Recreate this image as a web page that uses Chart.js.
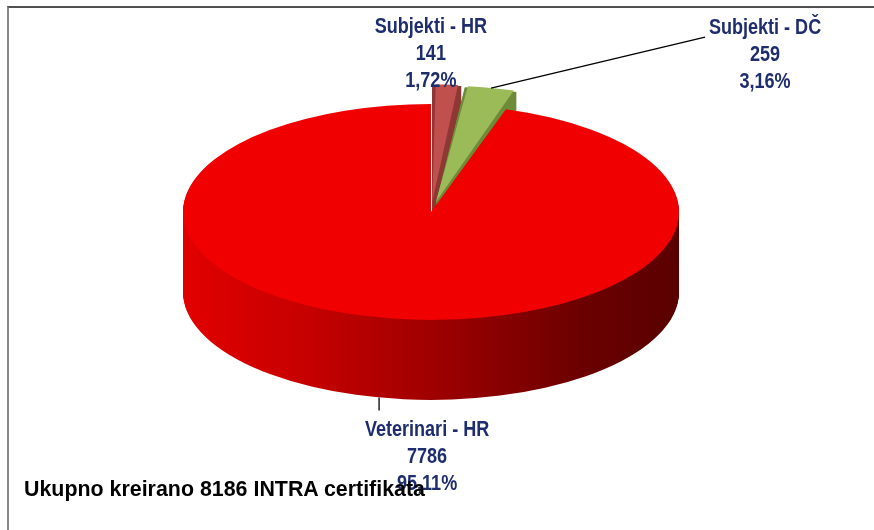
<!DOCTYPE html>
<html>
<head>
<meta charset="utf-8">
<script src="https://cdn.jsdelivr.net/npm/chart.js"></script>
<style>
  html, body { margin: 0; padding: 0; background: #fff; }
  #page { position: relative; width: 874px; height: 530px; overflow: hidden; background: #fff; }
  #wrap { position: absolute; left: 0; top: -44px; width: 874px; height: 592px; }
  #frame { position: absolute; left: 7px; top: 6px; right: 0; bottom: -10px;
           border-top: 2px solid #505050; border-left: 2px solid #8a8a8a; pointer-events: none; }
  #total { position: absolute; left: 24px; top: 477px; line-height: 1;
           font: bold 21.4px "Liberation Sans", Arial, sans-serif; color: #000; white-space: nowrap; }
</style>
</head>
<body>
<div id="page">
  <div id="wrap"><canvas id="pie"></canvas></div>
  <div id="frame"></div>
  <div id="total"></div>
</div>
<script>
// data
const categories = ["Subjekti - HR", "Subjekti - DČ", "Veterinari - HR"];
const counts = [141, 259, 7786];

// styles
const sliceColors = ["#C0504D", "#9BBB59", "#F00000"];
const sideColors = ["#8E3836", "#6E8B3A", null]; // null -> red gradient
const explode = [96, 96, 0];                      // chart.js offset
const VIEW = { tilt: 0.435, depth: 80 };
const labelColor = "#1e2d6e";
const labelFont = 'bold 22px "Liberation Sans", Arial, sans-serif';
const labelNarrow = 0.82; // squeeze to look like a narrow face
// label place relative to the slice tip (middle line baseline), optional leader end relative to label
const LABEL_POS = [
  { dx: -16, dy: -25 },
  { dx: 274, dy: -27, lead: [-60, -24] },
  { dx: 34, dy: 64, lead: [-48, -52] }
];

const total = counts.reduce((a, b) => a + b, 0);
document.getElementById("total").textContent = `Ukupno kreirano ${total} INTRA certifikata`;

const pct = (v) => (v / total * 100).toFixed(2).replace(".", ",") + "%";

function geom(chart) {
  const el0 = chart.getDatasetMeta(0).data[0];
  return {
    cx: el0.x,
    oy: el0.y,
    cy: el0.y - VIEW.depth / 2,
    R: el0.outerRadius,
    ry: el0.outerRadius * VIEW.tilt
  };
}

// same shift chart.js uses when it draws an arc with offset
function shiftOf(el) {
  const off = (el.options.offset || 0) / 4;
  const mid = (el.startAngle + el.endAngle) / 2;
  const fix = 1 - Math.sin(Math.min(Math.PI, el.circumference || 0));
  return { dx: Math.cos(mid) * off, dy: Math.sin(mid) * off, r: el.outerRadius + off * fix, mid: mid };
}

function narrowText(ctx, text, x, y) {
  ctx.save();
  ctx.translate(x, y);
  ctx.scale(labelNarrow, 1);
  ctx.fillText(text, 0, 0);
  ctx.restore();
}

const pie3d = {
  id: "pie3d",
  beforeDatasetsDraw(chart) {
    const ctx = chart.ctx;
    const g = geom(chart);
    const grad = ctx.createLinearGradient(g.cx - g.R, 0, g.cx + g.R, 0);
    grad.addColorStop(0, "#E20000");
    grad.addColorStop(0.25, "#C60000");
    grad.addColorStop(0.5, "#A00000");
    grad.addColorStop(0.8, "#6C0000");
    grad.addColorStop(1, "#5A0000");

    const arcs = chart.getDatasetMeta(0).data.map((el, i) => ({ el: el, i: i }));
    arcs.sort((a, b) => Math.sin(shiftOf(a.el).mid) - Math.sin(shiftOf(b.el).mid));

    arcs.forEach(({ el, i }) => {
      const s = shiftOf(el);
      ctx.fillStyle = sideColors[i] || grad;
      for (let d = VIEW.depth; d > 0; d--) {
        ctx.save();
        ctx.translate(0, g.cy + d);
        ctx.scale(1, VIEW.tilt);
        ctx.translate(0, -g.oy);
        ctx.beginPath();
        ctx.moveTo(el.x + s.dx, el.y + s.dy);
        ctx.arc(el.x + s.dx, el.y + s.dy, s.r, el.startAngle, el.endAngle);
        ctx.closePath();
        ctx.fill();
        ctx.restore();
      }
    });

    // top faces drawn by chart.js, squashed
    ctx.save();
    ctx.translate(0, g.cy);
    ctx.scale(1, VIEW.tilt);
    ctx.translate(0, -g.oy);
  },
  afterDatasetsDraw(chart) {
    chart.ctx.restore();
  },
  afterDraw(chart) {
    const ctx = chart.ctx;
    const g = geom(chart);
    chart.getDatasetMeta(0).data.forEach((el, i) => {
      const s = shiftOf(el);
      const front = Math.sin(s.mid) > 0;
      const px = el.x + s.dx + Math.cos(s.mid) * s.r;
      const py = el.y + s.dy + Math.sin(s.mid) * s.r;
      const tip = { x: px, y: g.cy + (py - g.oy) * VIEW.tilt + (front ? VIEW.depth : 0) };
      const pos = LABEL_POS[i];
      const lx = tip.x + pos.dx, ly = tip.y + pos.dy;

      if (pos.lead) {
        const ex = lx + pos.lead[0], ey = ly + pos.lead[1];
        let sx = tip.x, sy = tip.y;
        if (front) {
          const u = (ex - g.cx) / g.R;
          sx = ex;
          sy = g.cy + VIEW.depth + g.ry * Math.sqrt(Math.max(0, 1 - u * u));
        }
        ctx.save();
        ctx.strokeStyle = "#000";
        ctx.lineWidth = 1.3;
        ctx.beginPath();
        ctx.moveTo(sx, sy);
        ctx.lineTo(ex, ey);
        ctx.stroke();
        ctx.restore();
      }

      ctx.save();
      ctx.font = labelFont;
      ctx.fillStyle = labelColor;
      ctx.textAlign = "center";
      ctx.textBaseline = "alphabetic";
      narrowText(ctx, categories[i], lx, ly - 27);
      narrowText(ctx, String(counts[i]), lx, ly);
      narrowText(ctx, pct(counts[i]), lx, ly + 27);
      ctx.restore();
    });
  }
};

new Chart(document.getElementById("pie"), {
  type: "pie",
  data: {
    labels: categories,
    datasets: [{
      data: counts,
      backgroundColor: sliceColors,
      borderWidth: 0,
      offset: explode,
      hoverOffset: 0,
      clip: false
    }]
  },
  options: {
    responsive: true,
    maintainAspectRatio: false,
    animation: false,
    events: [],
    layout: { padding: { left: 135, right: 147, top: 0, bottom: 0 } },
    plugins: {
      legend: { display: false },
      tooltip: { enabled: false }
    }
  },
  plugins: [pie3d]
});
</script>
</body>
</html>
